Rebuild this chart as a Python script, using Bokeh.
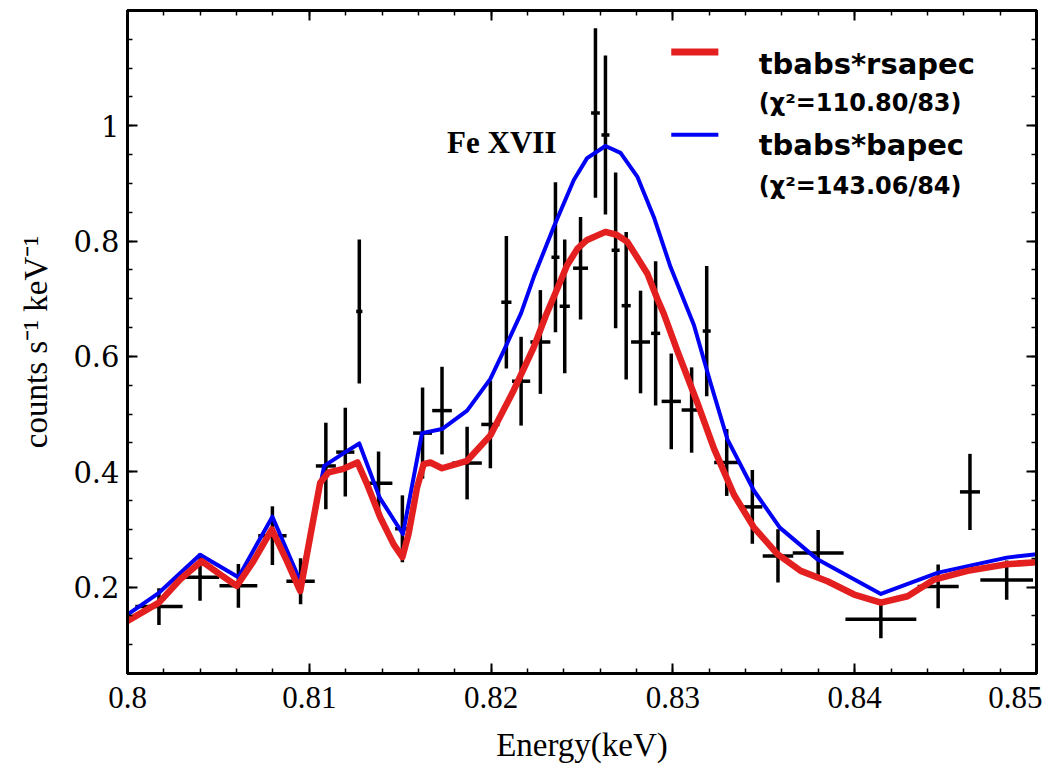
import numpy as np
from bokeh.plotting import figure
from bokeh.models import FixedTicker, LinearAxis, Range1d, Label, CustomJSTickFormatter
from bokeh.embed import file_html
from bokeh.resources import INLINE

# ---------------- data ----------------
energy = [0.80173, 0.80399, 0.80610, 0.80797, 0.80952, 0.81091, 0.81198, 0.81275,
          0.81381, 0.81512, 0.81623, 0.81730, 0.81868, 0.81996, 0.82084, 0.82165,
          0.82271, 0.82354, 0.82405, 0.82492, 0.82574, 0.82629, 0.82685, 0.82743,
          0.82822, 0.82905, 0.82991, 0.83103, 0.83186, 0.83296, 0.83437, 0.83578,
          0.83799, 0.84144, 0.84459, 0.84634, 0.84836]
energy_err = [0.00130, 0.00105, 0.00104, 0.00078, 0.00078, 0.00055, 0.00050, 0.00017,
              0.00076, 0.00040, 0.00052, 0.00054, 0.00081, 0.00050, 0.00028, 0.00050,
              0.00055, 0.00022, 0.00028, 0.00041, 0.00024, 0.00022, 0.00022, 0.00025,
              0.00052, 0.00025, 0.00053, 0.00055, 0.00022, 0.00069, 0.00055, 0.00084,
              0.00140, 0.00195, 0.00113, 0.00055, 0.00145]
counts = [0.166, 0.217, 0.202, 0.289, 0.210, 0.410, 0.434, 0.678,
          0.380, 0.301, 0.467, 0.506, 0.415, 0.482, 0.694, 0.557,
          0.625, 0.772, 0.687, 0.753, 1.022, 0.984, 0.784, 0.688,
          0.625, 0.640, 0.522, 0.507, 0.644, 0.416, 0.339, 0.254,
          0.259, 0.144, 0.201, 0.365, 0.212]
counts_err = [0.032, 0.041, 0.038, 0.051, 0.040, 0.075, 0.077, 0.125,
              0.055, 0.058, 0.079, 0.076, 0.063, 0.076, 0.115, 0.077,
              0.090, 0.130, 0.116, 0.089, 0.147, 0.138, 0.135, 0.128,
              0.089, 0.125, 0.083, 0.074, 0.113, 0.058, 0.064, 0.046,
              0.040, 0.033, 0.038, 0.066, 0.034]

# model tbabs*rsapec (red)
rsapec_e = [0.80000, 0.80173, 0.80289, 0.80408, 0.80509, 0.80601, 0.80693, 0.80794,
            0.80877, 0.80950, 0.81014, 0.81060, 0.81106, 0.81188, 0.81265, 0.81317,
            0.81390, 0.81464, 0.81512, 0.81546, 0.81593, 0.81629, 0.81666, 0.81730,
            0.81868, 0.81996, 0.82124, 0.82235, 0.82300, 0.82354, 0.82418, 0.82475,
            0.82528, 0.82629, 0.82690, 0.82749, 0.82859, 0.82914, 0.82950, 0.83024,
            0.83134, 0.83226, 0.83336, 0.83446, 0.83575, 0.83703, 0.83850, 0.83997,
            0.84144, 0.84291, 0.84437, 0.84621, 0.84836, 0.85000]
rsapec_y = [0.141, 0.173, 0.213, 0.245, 0.222, 0.202, 0.245, 0.300,
            0.245, 0.193, 0.303, 0.381, 0.399, 0.405, 0.416, 0.379,
            0.321, 0.274, 0.252, 0.292, 0.373, 0.413, 0.416, 0.406,
            0.419, 0.463, 0.541, 0.616, 0.670, 0.710, 0.758, 0.787,
            0.802, 0.816, 0.811, 0.799, 0.744, 0.700, 0.674, 0.610,
            0.520, 0.440, 0.360, 0.303, 0.257, 0.228, 0.210, 0.187,
            0.173, 0.184, 0.213, 0.228, 0.2395, 0.243]

# model tbabs*bapec (blue)
bapec_e = [0.80000, 0.80173, 0.80399, 0.80610, 0.80797, 0.80952, 0.81082, 0.81198,
           0.81275, 0.81387, 0.81515, 0.81620, 0.81730, 0.81868, 0.81996, 0.82070,
           0.82165, 0.82235, 0.82345, 0.82455, 0.82528, 0.82629, 0.82712, 0.82804,
           0.82895, 0.82987, 0.83116, 0.83208, 0.83300, 0.83446, 0.83588, 0.83795,
           0.84144, 0.84459, 0.84836, 0.85000]
bapec_y = [0.152, 0.190, 0.256, 0.217, 0.322, 0.209, 0.410, 0.434,
           0.449, 0.355, 0.292, 0.467, 0.474, 0.506, 0.561, 0.610,
           0.675, 0.738, 0.825, 0.906, 0.944, 0.965, 0.953, 0.912,
           0.842, 0.755, 0.654, 0.553, 0.456, 0.367, 0.303, 0.248,
           0.188, 0.225, 0.251, 0.257]

x_ticks = [0.8, 0.81, 0.82, 0.83, 0.84, 0.85]
y_ticks = [0.2, 0.4, 0.6, 0.8, 1]
legend_labels = ["tbabs*rsapec", "(χ²=110.80/83)", "tbabs*bapec", "(χ²=143.06/84)"]
line_label = "Fe XVII"

# ---------------- figure ----------------
RED = "#e3201f"
BLUE = "#0000f5"

p = figure(width=1042, height=766,
           x_range=Range1d(0.8, 0.85), y_range=Range1d(0.05, 1.2),
           output_backend="svg", toolbar_location=None,
           min_border_left=127, min_border_right=6,
           min_border_top=10, min_border_bottom=93,
           x_axis_label="Energy(keV)", y_axis_label="counts s⁻¹ keV⁻¹")
p.grid.visible = False
p.outline_line_color = "black"
p.outline_line_width = 3
p.background_fill_color = "white"
p.border_fill_color = "white"

x_minor = [round(0.8 + 0.002 * i, 4) for i in range(26)]
y_minor = [round(0.05 + 0.05 * i, 3) for i in range(24)]
fmt = CustomJSTickFormatter(code="return String(tick);")
blank_fmt = CustomJSTickFormatter(code="return '';")


def style_axis(ax, ticks, minor, labels=True):
    ax.ticker = FixedTicker(ticks=ticks, minor_ticks=minor)
    ax.major_tick_in = 10
    ax.major_tick_out = 0
    ax.minor_tick_in = 5
    ax.minor_tick_out = 0
    ax.axis_line_width = 3
    ax.axis_line_color = "black"
    ax.major_tick_line_width = 2
    ax.minor_tick_line_width = 1.5
    ax.major_label_text_color = "black"
    ax.axis_label_text_color = "black"
    if labels:
        ax.formatter = fmt
    else:
        ax.formatter = blank_fmt
        ax.major_label_text_font_size = "1px"
        ax.major_label_standoff = 0
        ax.axis_label = None


xa = p.xaxis[0]
style_axis(xa, x_ticks, x_minor)
xa.major_label_text_font = "Liberation Serif"
xa.major_label_text_font_size = "31px"
xa.major_label_standoff = 13
xa.axis_label_text_font = "Liberation Serif"
xa.axis_label_text_font_size = "33px"
xa.axis_label_text_font_style = "normal"
xa.axis_label_standoff = 16

ya = p.yaxis[0]
style_axis(ya, y_ticks, y_minor)
ya.major_label_text_font = "DejaVu Serif"
ya.major_label_text_font_size = "29px"
ya.major_label_standoff = 8
ya.axis_label_text_font = "Liberation Serif"
ya.axis_label_text_font_size = "33px"
ya.axis_label_text_font_style = "normal"
ya.axis_label_standoff = 16

top = LinearAxis()
style_axis(top, x_ticks, x_minor, labels=False)
p.add_layout(top, "above")
right = LinearAxis()
style_axis(right, y_ticks, y_minor, labels=False)
p.add_layout(right, "right")

# ---------------- data with error bars ----------------
e = np.array(energy)
ee = np.array(energy_err)
c = np.array(counts)
ce = np.array(counts_err)
p.segment(x0=e, y0=c - ce, x1=e, y1=c + ce, line_color="black", line_width=3.5)
p.segment(x0=e - ee, y0=c, x1=e + ee, y1=c, line_color="black", line_width=3.5)

# ---------------- models ----------------
p.line(bapec_e, bapec_y, line_color=BLUE, line_width=4, line_join="round")
p.line(rsapec_e, rsapec_y, line_color=RED, line_width=6.5, line_join="round", line_cap="round")

# ---------------- legend (manual) ----------------
lx0, lx1 = 0.82991, 0.83250
tx = 0.83472
p.segment(x0=[lx0], y0=[1.1282], x1=[lx1], y1=[1.1282], line_color=RED, line_width=7)
p.segment(x0=[lx0], y0=[0.9843], x1=[lx1], y1=[0.9843], line_color=BLUE, line_width=4)
for txt, ty, fs in zip(legend_labels, [1.1078, 1.040, 0.967, 0.8957], ["29px", "24px", "29px", "24px"]):
    p.add_layout(Label(x=tx, y=ty, text=txt, text_font="DejaVu Sans",
                       text_font_style="bold", text_font_size=fs,
                       text_baseline="alphabetic", text_color="black"))

p.add_layout(Label(x=0.81758, y=0.971, text=line_label, text_font="Liberation Serif",
                   text_font_style="bold", text_font_size="31px",
                   text_baseline="alphabetic", text_color="black"))

open("out.html", "w").write(file_html(p, INLINE))
